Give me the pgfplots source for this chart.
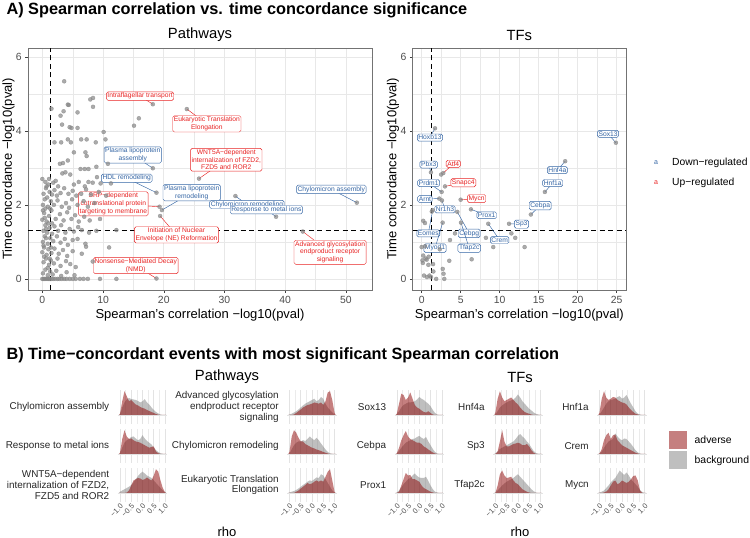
\documentclass[border=0pt]{standalone}
\usepackage{fontspec}
\setmainfont{Liberation Sans}
\usepackage{pgfplots}
\usepackage{pgfplotstable}
\pgfplotsset{compat=1.18}
\definecolor{redc}{RGB}{232,35,35}
\definecolor{bluec}{RGB}{52,101,164}
\definecolor{advc}{RGB}{139,0,0}
\definecolor{bgc}{RGB}{127,127,127}
\definecolor{ptc}{RGB}{135,135,135}

% density curves: one row per series, x grid shared (transposed below)
\pgfplotstableread[row sep=\\]{
name c0 c1 c2 c3 c4 c5 c6 c7 c8 c9 c10 c11 c12 c13 c14 c15 c16 c17 c18 c19 c20 c21 c22\\
x -1.05 -1.0 -0.9 -0.8 -0.7 -0.6 -0.5 -0.4 -0.3 -0.2 -0.1 0 0.1 0.2 0.3 0.4 0.5 0.6 0.7 0.8 0.9 1.0 1.05\\
a1 0 0.05 0.55 0.95 0.75 0.55 0.6 0.5 0.42 0.38 0.32 0.28 0.25 0.2 0.16 0.12 0.08 0.04 0.01 0 0 0 0\\
b1 0 0.02 0.3 0.5 0.62 0.68 0.64 0.62 0.6 0.56 0.5 0.55 0.63 0.5 0.42 0.3 0.2 0.12 0.06 0.02 0 0 0\\
a2 0 0.05 0.6 0.95 0.7 0.6 0.62 0.55 0.5 0.48 0.45 0.4 0.35 0.3 0.25 0.28 0.3 0.1 0.03 0 0 0 0\\
b2 0 0.02 0.25 0.45 0.55 0.6 0.68 0.7 0.62 0.55 0.6 0.75 0.62 0.52 0.45 0.38 0.25 0.15 0.08 0.03 0.01 0 0\\
a3 0 0 0 0 0.02 0.1 0.3 0.5 0.55 0.6 0.58 0.52 0.55 0.62 0.55 0.5 0.7 0.95 0.85 0.5 0.2 0.03 0\\
b3 0 0.05 0.1 0.15 0.2 0.25 0.32 0.42 0.55 0.68 0.78 0.85 0.78 0.7 0.65 0.6 0.5 0.4 0.3 0.2 0.1 0.03 0\\
a4 0 0 0 0.02 0.08 0.15 0.22 0.3 0.35 0.4 0.42 0.45 0.5 0.48 0.45 0.5 0.4 0.55 0.9 0.95 0.6 0.1 0\\
b4 0 0.02 0.05 0.1 0.15 0.22 0.3 0.38 0.45 0.5 0.55 0.6 0.65 0.55 0.6 0.72 0.65 0.45 0.3 0.2 0.1 0.02 0\\
a5 0 0.1 0.7 0.95 0.85 0.65 0.5 0.5 0.4 0.35 0.3 0.25 0.22 0.18 0.15 0.12 0.08 0.05 0.02 0 0 0 0\\
b5 0 0.02 0.2 0.35 0.45 0.5 0.5 0.55 0.52 0.6 0.7 0.62 0.55 0.65 0.55 0.42 0.3 0.18 0.08 0.03 0.01 0 0\\
a6 0 0 0 0 0.05 0.1 0.18 0.25 0.32 0.4 0.35 0.38 0.45 0.5 0.45 0.5 0.45 0.65 0.85 0.95 0.5 0.05 0\\
b6 0 0.02 0.05 0.08 0.12 0.18 0.25 0.32 0.38 0.45 0.5 0.48 0.55 0.62 0.6 0.75 0.7 0.55 0.4 0.25 0.1 0.02 0\\
a7 0 0.05 0.45 0.85 0.8 0.6 0.7 0.9 0.65 0.4 0.3 0.25 0.18 0.12 0.1 0.15 0.08 0.02 0 0 0 0 0\\
b7 0 0.02 0.15 0.3 0.4 0.45 0.5 0.5 0.52 0.55 0.62 0.72 0.65 0.6 0.52 0.45 0.35 0.2 0.08 0.02 0 0 0\\
a8 0 0.02 0.25 0.55 0.75 0.92 0.7 0.6 0.55 0.5 0.45 0.45 0.4 0.3 0.25 0.18 0.12 0.06 0.02 0 0 0 0\\
b8 0 0.02 0.12 0.25 0.35 0.45 0.5 0.55 0.6 0.62 0.68 0.72 0.65 0.6 0.68 0.5 0.35 0.2 0.08 0.02 0 0 0\\
a9 0 0 0.05 0.3 0.55 0.8 0.7 0.72 0.55 0.55 0.5 0.45 0.3 0.2 0.15 0.1 0.05 0.02 0 0 0 0 0\\
b9 0 0.02 0.1 0.22 0.35 0.45 0.55 0.6 0.7 0.78 0.68 0.62 0.6 0.6 0.65 0.48 0.3 0.15 0.05 0.02 0 0 0\\
a10 0 0.1 0.65 0.95 0.7 0.55 0.6 0.65 0.7 0.6 0.5 0.42 0.3 0.2 0.12 0.08 0.05 0.02 0 0 0 0 0\\
b10 0 0.02 0.15 0.3 0.38 0.45 0.5 0.55 0.58 0.62 0.7 0.82 0.7 0.55 0.45 0.35 0.25 0.18 0.1 0.05 0.02 0 0\\
a11 0 0 0.1 0.5 0.95 0.5 0.3 0.3 0.35 0.4 0.42 0.45 0.42 0.35 0.35 0.4 0.3 0.15 0.05 0 0 0 0\\
b11 0 0.02 0.1 0.2 0.25 0.3 0.35 0.4 0.45 0.5 0.6 0.72 0.8 0.7 0.62 0.5 0.4 0.25 0.12 0.04 0.01 0 0\\
a12 0 0 0.3 0.75 0.9 0.7 0.6 0.62 0.65 0.5 0.4 0.35 0.25 0.15 0.1 0.05 0.02 0 0 0 0 0 0\\
b12 0 0.02 0.1 0.2 0.3 0.38 0.45 0.5 0.55 0.6 0.68 0.75 0.65 0.55 0.45 0.35 0.25 0.15 0.07 0.02 0 0 0\\
a13 0 0.1 0.65 0.95 0.7 0.6 0.65 0.72 0.7 0.6 0.55 0.5 0.48 0.42 0.3 0.2 0.12 0.05 0.02 0 0 0 0\\
b13 0 0.02 0.15 0.3 0.45 0.55 0.6 0.62 0.65 0.72 0.75 0.65 0.7 0.8 0.62 0.45 0.3 0.15 0.05 0.02 0 0 0\\
a14 0 0.02 0.2 0.55 0.75 0.85 0.6 0.75 0.78 0.55 0.45 0.35 0.3 0.25 0.2 0.15 0.1 0.05 0.02 0 0 0 0\\
b14 0 0.02 0.1 0.25 0.38 0.5 0.55 0.6 0.82 0.7 0.6 0.55 0.62 0.6 0.5 0.4 0.28 0.15 0.06 0.02 0 0 0\\
a15 0 0 0 0.02 0.06 0.15 0.3 0.45 0.5 0.35 0.4 0.5 0.45 0.4 0.45 0.55 0.68 0.7 0.5 0.1 0 0 0\\
b15 0 0.02 0.05 0.1 0.2 0.3 0.42 0.52 0.6 0.75 0.9 0.8 0.72 0.82 0.7 0.55 0.45 0.35 0.25 0.12 0.04 0 0\\
}\dRaw
\pgfplotstabletranspose[colnames from=name]{\dens}{\dRaw}

\tikzset{
  lb/.style={draw=#1, text=#1, fill=white, rounded corners=1.6pt, inner sep=1.1pt,
    line width=0.45pt, font=\fontsize{6.7}{7.8}\selectfont, align=center},
}
\newcommand{\lab}[6]{\draw[#1, line width=0.45pt] (axis cs:#2,#3) -- (axis cs:#4,#5);
  \node[lb=#1] at (axis cs:#2,#3) {#6};}

\pgfplotsset{
  scat/.style={scale only axis, anchor=south west, height=242pt,
    ymin=-0.3, ymax=6.24, ytick={0,2,4,6}, minor ytick={1,3,5},
    grid=both, major grid style={black!9, line width=0.55pt},
    minor grid style={black!9, line width=0.3pt},
    axis line style={black!55, line width=0.5pt},
    tick align=outside, major tick length=2.8pt, minor tick length=0pt,
    tick style={black!75, line width=0.5pt}, tick pos=left,
    ticklabel style={font=\fontsize{10.4}{12}\selectfont, text=black!70},
    /pgf/number format/assume math mode=true,
    xlabel={Spearman's correlation −log10(pval)},
    ylabel={Time concordance −log10(pval)},
    label style={font=\fontsize{13}{15}\selectfont},
    xlabel style={at={(axis description cs:0.5,0)}, anchor=center, yshift=-25pt},
    ylabel style={at={(axis description cs:0,0.5)}, anchor=center, yshift=19.6pt},
    title style={font=\fontsize{14.8}{17}\selectfont, at={(0.5,1)}, anchor=center, yshift=7pt},
    clip=false},
  dens/.style={scale only axis, anchor=south, width=49.5pt, height=34pt,
    xmin=-1.1, xmax=1.1, ymin=-0.36, ymax=1.0,
    axis line style={draw=none},
    xtick={-1,-0.5,0,0.5,1}, minor xtick={-0.75,-0.25,0.25,0.75},
    ytick={0}, yticklabels={}, xticklabels={},
    xmajorgrids, xminorgrids, ymajorgrids,
    major grid style={black!11, line width=0.55pt},
    minor grid style={black!8, line width=0.3pt},
    major tick length=0pt, minor tick length=0pt, clip=false,
    xticklabel style={rotate=45, anchor=north east, font=\fontsize{7.4}{9}\selectfont,
      text=black!70, inner sep=0.8pt}},
}
\newcommand{\dpanel}[5]{%
  \begin{axis}[dens, at={(#1pt,#2pt)}, #5]
    \addplot[draw=none, fill=bgc, fill opacity=0.5] table[x=x, y=b#3]{\dens} \closedcycle;
    \addplot[draw=none, fill=advc, fill opacity=0.5] table[x=x, y=a#3]{\dens} \closedcycle;
    \node[anchor=east, align=right, font=\fontsize{9.9}{10.6}\selectfont, text=black!85,
      xshift=-5pt] at (rel axis cs:0,0.5) {#4};
  \end{axis}}

\begin{document}
\begin{tikzpicture}[x=1pt,y=1pt]
\path[use as bounding box] (0,0) rectangle (750,538);

\node[anchor=west, font=\fontsize{16.3}{18}\selectfont\bfseries] at (3pt,528pt)
  {A) Spearman correlation vs. time concordance significance};
\node[anchor=west, font=\fontsize{16.3}{18}\selectfont\bfseries] at (3pt,183pt)
  {B) Time−concordant events with most significant Spearman correlation};

% ---------------- Pathways scatter ----------------
\begin{axis}[scat, at={(28pt,248pt)}, width=344pt,
  xmin=-2.36, xmax=54.3, xtick={0,10,...,50}, minor xtick={5,15,...,45},
  title={Pathways}]
\addplot[only marks, mark=*, mark size=2pt,
  mark options={fill=ptc, draw=ptc, fill opacity=0.7, draw opacity=0.7}] coordinates {
(3.6,5.34) (1.5,4.6) (3.5,4.53) (4.2,4.71) (4.35,4.70) (3.0,4.41) (5.8,4.5) (7.9,4.85) (8.35,4.89) (8.35,4.65)
(3.25,4.17) (4.5,4.10) (4.8,4.08) (5.8,4.08) (10.1,3.97) (15.1,4.14) (15.9,4.34)
(10.4,3.77) (2.0,3.69) (3.1,3.69) (4.2,3.77) (4.7,3.69) (6.4,3.77) (7.3,3.77) (8.8,3.69)
(5.2,3.42) (7.1,3.42) (7.3,3.32)
(4.2,3.2) (2.9,3.11) (3.4,3.13) (6.3,2.97) (7.0,2.97) (7.6,2.97) (8.9,3.03) (10.8,3.11) (3.8,2.88)
(0.0,2.7) (0.5,2.62) (1.0,2.55) (1.8,2.6) (2.2,2.65) (2.6,2.5) (3.3,2.85) (4.6,2.82) (5.2,2.55) (6.0,2.62) (7.0,2.5) (7.6,2.62) (8.3,2.6) (9.0,2.75) (9.6,2.58) (11.3,2.58)
(0.2,2.3) (0.6,2.45) (1.2,2.35) (1.6,2.28) (2.0,2.4) (2.4,2.25) (3.0,2.32) (3.6,2.45) (4.3,2.3) (5.0,2.38) (5.6,2.25) (6.4,2.3) (7.2,2.42) (8.0,2.28) (9.3,2.35) (10.5,2.25)
(0.1,2.0) (0.4,2.15) (0.9,1.95) (1.4,2.1) (1.9,2.0) (2.5,2.12) (3.2,1.95) (3.9,2.05) (4.4,1.92) (4.9,2.15) (5.8,2.0) (6.8,2.1) (7.5,1.95) (8.6,2.05)
(0.0,1.6) (0.3,1.78) (0.7,1.55) (1.1,1.7) (1.5,1.85) (2.2,1.62) (2.9,1.75) (3.5,1.58) (4.1,1.8) (4.8,1.62) (5.4,1.72) (6.0,1.55) (6.9,1.68) (7.8,1.58) (9.5,1.62)
(0.2,1.3) (0.5,1.45) (0.8,1.25) (1.2,1.38) (1.6,1.22) (2.0,1.42) (2.6,1.3) (3.1,1.45) (3.8,1.25) (4.5,1.35) (5.2,1.28) (5.9,1.4) (6.5,1.32) (7.7,1.25) (8.9,1.3) (12.2,1.32)
(0.1,1.0) (0.4,1.15) (0.9,0.95) (1.3,1.1) (1.8,1.02) (2.4,1.15) (3.0,0.98) (3.7,1.08) (4.2,0.92) (5.0,1.05) (5.8,1.08) (7.1,0.95)
(0.0,0.72) (0.3,0.85) (0.7,0.65) (1.0,0.8) (1.5,0.7) (2.0,0.82) (2.7,0.68) (3.4,0.78) (4.1,0.62) (5.0,0.75) (6.5,0.68) (7.2,0.87) (11.0,0.85)
(0.2,0.45) (0.6,0.55) (1.1,0.38) (1.4,0.5) (1.9,0.42) (2.5,0.55) (3.0,0.35) (3.9,0.48) (4.6,0.4) (5.5,0.32) (8.3,0.47)
(0.1,0.15) (0.5,0.25) (0.9,0.1) (1.3,0.2) (1.7,0.12) (2.3,0.22) (3.1,0.08) (4.0,0.18) (5.3,0.1)
(0,0) (0.2,0) (0.4,0) (0.6,0) (0.8,0) (1.0,0) (1.2,0) (1.5,0) (1.8,0) (2.1,0) (2.5,0) (2.8,0) (3.2,0) (3.6,0) (4.0,0) (4.5,0) (5.0,0) (5.5,0) (6.2,0) (6.8,0) (7.5,0) (9.5,0) (12.2,0)
(0.5,1.9) (0.8,2.2) (1.0,1.5) (0.6,1.1) (0.2,0.9) (1.2,0.55) (0.9,0.3) (0.4,1.65) (1.3,1.9) (0.7,2.5) (1.1,2.7) (0.3,0.6) (1.4,0.85) (0.6,1.35) (1.6,1.5) (0.1,1.85)
(18.2,4.72) (23.8,4.59) (18.2,2.99) (25.8,2.71) (18.8,2.33) (19.7,1.86) (31.8,2.24) (38.5,1.68) (51.8,2.06) (19.3,1.95) (19.4,1.70) (42.9,1.28) (18.8,0.01)
};
\addplot[black, line width=1.1pt, dash pattern=on 5pt off 3.5pt] coordinates {(1.301,-0.3) (1.301,6.24)};
\addplot[black, line width=1.1pt, dash pattern=on 5pt off 3.5pt] coordinates {(-2.36,1.301) (54.3,1.301)};
\lab{redc}{16.1}{4.94}{18.2}{4.72}{Intraflagellar transport}
\lab{redc}{27.1}{4.19}{23.8}{4.59}{Eukaryotic Translation\\Elongation}
\lab{bluec}{14.9}{3.35}{18.2}{2.99}{Plasma lipoprotein\\assembly}
\lab{redc}{30.3}{3.22}{25.8}{2.71}{WNT5A−dependent\\internalization of FZD2,\\FZD5 and ROR2}
\lab{bluec}{13.9}{2.72}{18.8}{2.33}{HDL remodeling}
\lab{bluec}{24.6}{2.33}{19.7}{1.86}{Plasma lipoprotein\\remodeling}
\lab{bluec}{33.7}{2.01}{31.8}{2.24}{Chylomicron remodeling}
\lab{bluec}{36.9}{1.87}{38.5}{1.68}{Response to metal ions}
\lab{bluec}{47.6}{2.42}{51.8}{2.06}{Chylomicron assembly}
\lab{redc}{11.7}{2.03}{19.3}{1.95}{SRP−dependent\\cotranslational protein\\targeting to membrane}
\lab{redc}{22.1}{1.19}{19.4}{1.70}{Initiation of Nuclear\\Envelope (NE) Reformation}
\lab{redc}{47.4}{0.72}{42.9}{1.28}{Advanced glycosylation\\endproduct receptor\\signaling}
\lab{redc}{15.4}{0.36}{18.8}{0.01}{Nonsense−Mediated Decay\\(NMD)}
\end{axis}

% ---------------- TFs scatter ----------------
\begin{axis}[scat, at={(412.7pt,248pt)}, width=213.3pt,
  xmin=-1.15, xmax=26.2, xtick={0,5,...,25}, minor xtick={2.5,7.5,...,22.5},
  title={TFs}]
\addplot[only marks, mark=*, mark size=2pt,
  mark options={fill=ptc, draw=ptc, fill opacity=0.7, draw opacity=0.7}] coordinates {
(1.71,4.07) (1.19,2.88) (2.77,2.86) (2.56,2.35) (2.99,2.5) (2.26,2.17) (2.6,2.12) (5.0,2.14)
(6.32,1.88) (4.57,1.81) (5.04,1.52) (1.41,1.86) (2.69,1.52) (8.54,1.49) (11.2,1.49) (14.0,1.74)
(15.8,2.35) (18.4,3.18) (24.9,3.68)
(2.5,2.82) (3.63,1.05) (3.54,0.49) (6.41,0.53) (8.24,1.11) (9.18,0.86) (11.5,1.23) (12.0,1.11)
(13.2,0.86) (4.27,1.23) (0.2,1.57) (0.42,1.51) (0,0.86) (0.43,0.88) (0.2,0.63) (0.64,0.52)
(0.15,0.43) (0.86,0.38) (0.3,0.09) (0.68,0.05) (1.0,0.09) (1.5,0.2) (1.86,0) (2.7,0.27)
(2.8,0.14) (2.9,0.0) (1.46,0.4) (2.32,0.8) (1.3,1.82) (0.5,0.55) (0.9,0.6) (1.2,0.05) (0.1,0.5)
};
\addplot[black, line width=1.1pt, dash pattern=on 5pt off 3.5pt] coordinates {(1.301,-0.3) (1.301,6.24)};
\addplot[black, line width=1.1pt, dash pattern=on 5pt off 3.5pt] coordinates {(-1.15,1.301) (26.2,1.301)};
\lab{bluec}{1.06}{3.82}{1.71}{4.07}{Hoxb13}
\lab{bluec}{0.9}{3.09}{1.19}{2.88}{Pbx3}
\lab{redc}{4.05}{3.11}{2.77}{2.86}{Atf4}
\lab{bluec}{0.9}{2.59}{2.56}{2.35}{Prdm1}
\lab{redc}{5.34}{2.6}{2.99}{2.5}{Snapc4}
\lab{bluec}{0.42}{2.16}{2.26}{2.17}{Arnt}
\lab{bluec}{2.99}{1.88}{2.6}{2.12}{Nr1h3}
\lab{redc}{7.05}{2.17}{5.0}{2.14}{Mycn}
\lab{bluec}{8.33}{1.72}{6.32}{1.88}{Prox1}
\lab{bluec}{6.1}{1.23}{4.57}{1.81}{Cebpg}
\lab{bluec}{6.1}{0.83}{5.04}{1.52}{Tfap2c}
\lab{bluec}{0.85}{1.23}{1.41}{1.86}{Eomes}
\lab{bluec}{1.71}{0.83}{2.69}{1.52}{Myod1}
\lab{bluec}{10.0}{1.05}{8.54}{1.49}{Crem}
\lab{bluec}{12.8}{1.48}{11.2}{1.49}{Sp3}
\lab{bluec}{15.2}{1.98}{14.0}{1.74}{Cebpa}
\lab{bluec}{16.8}{2.59}{15.8}{2.35}{Hnf1a}
\lab{bluec}{17.4}{2.94}{18.4}{3.18}{Hnf4a}
\lab{bluec}{23.9}{3.92}{24.9}{3.68}{Sox13}
\end{axis}

% top legend
\node[text=bluec, font=\fontsize{7}{8}\selectfont] at (656pt,375pt) {a};
\node[text=redc, font=\fontsize{7}{8}\selectfont] at (656pt,355pt) {a};
\node[anchor=west, inner sep=0pt, font=\fontsize{10.3}{12}\selectfont] at (672pt,375pt) {Down−regulated};
\node[anchor=west, inner sep=0pt, font=\fontsize{10.3}{12}\selectfont] at (672pt,355pt) {Up−regulated};

% ---------------- Density panels ----------------
\node[font=\fontsize{14.8}{17}\selectfont] at (227pt,161pt) {Pathways};
\node[font=\fontsize{14.8}{17}\selectfont] at (520pt,161pt) {TFs};

\dpanel{142.5}{114}{1}{Chylomicron assembly}{}
\dpanel{142.5}{75}{2}{Response to metal ions}{}
\dpanel{142.5}{36}{3}{WNT5A−dependent\\internalization of FZD2,\\FZD5 and ROR2}{xticklabels={−1.0,−0.5,0.0,0.5,1.0}}
\dpanel{312}{114}{4}{Advanced glycosylation\\endproduct receptor\\signaling}{}
\dpanel{312}{75}{5}{Chylomicron remodeling}{}
\dpanel{312}{36}{6}{Eukaryotic Translation\\Elongation}{xticklabels={−1.0,−0.5,0.0,0.5,1.0}}
\dpanel{419.3}{114}{7}{Sox13}{}
\dpanel{419.3}{75}{8}{Cebpa}{}
\dpanel{419.3}{36}{9}{Prox1}{xticklabels={−1.0,−0.5,0.0,0.5,1.0}}
\dpanel{517.9}{114}{10}{Hnf4a}{}
\dpanel{517.9}{75}{11}{Sp3}{}
\dpanel{517.9}{36}{12}{Tfap2c}{xticklabels={−1.0,−0.5,0.0,0.5,1.0}}
\dpanel{622}{114}{13}{Hnf1a}{}
\dpanel{622}{75}{14}{Crem}{}
\dpanel{622}{36}{15}{Mycn}{xticklabels={−1.0,−0.5,0.0,0.5,1.0}}

\node[font=\fontsize{13}{15}\selectfont] at (227pt,6pt) {rho};
\node[font=\fontsize{13}{15}\selectfont] at (520pt,6pt) {rho};

% bottom legend
\fill[advc, fill opacity=0.5] (669pt,89pt) rectangle (687pt,107pt);
\fill[bgc, fill opacity=0.5] (669pt,68.5pt) rectangle (687pt,86.5pt);
\node[anchor=west, inner sep=0pt, font=\fontsize{10.4}{12}\selectfont] at (694.5pt,98pt) {adverse};
\node[anchor=west, inner sep=0pt, font=\fontsize{10.4}{12}\selectfont] at (694.5pt,77.5pt) {background};
\end{tikzpicture}
\end{document}
